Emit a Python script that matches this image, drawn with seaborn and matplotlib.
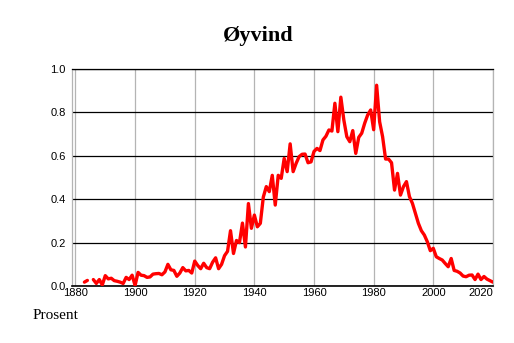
import numpy as np
import pandas as pd
import matplotlib
matplotlib.use('Agg')
import matplotlib.pyplot as plt
import seaborn as sns
from matplotlib.ticker import MultipleLocator

# Share of newborns named Øyvind (percent)
years = list(range(1883, 2021))
percent = [
    0.018, 0.026, np.nan, 0.030, 0.012, 0.030, 0.005,                      # 1883-1889
    0.048, 0.033, 0.036, 0.025, 0.022, 0.018, 0.012, 0.040, 0.030, 0.050,  # 1890-1899
    0.003, 0.063, 0.050, 0.048, 0.040, 0.042, 0.055, 0.057, 0.058, 0.052,  # 1900-1909
    0.065, 0.100, 0.075, 0.072, 0.045, 0.060, 0.085, 0.070, 0.072, 0.060,  # 1910-1919
    0.115, 0.095, 0.080, 0.105, 0.085, 0.080, 0.110, 0.130, 0.080, 0.100,  # 1920-1929
    0.140, 0.160, 0.255, 0.150, 0.210, 0.200, 0.290, 0.180, 0.380, 0.266,  # 1930-1939
    0.327, 0.273, 0.289, 0.410, 0.458, 0.435, 0.510, 0.373, 0.510, 0.496,  # 1940-1949
    0.588, 0.527, 0.655, 0.527, 0.565, 0.596, 0.607, 0.608, 0.568, 0.572,  # 1950-1959
    0.620, 0.634, 0.624, 0.673, 0.690, 0.719, 0.714, 0.842, 0.711, 0.870,  # 1960-1969
    0.765, 0.688, 0.665, 0.716, 0.611, 0.685, 0.704, 0.750, 0.788, 0.811,  # 1970-1979
    0.720, 0.925, 0.757, 0.688, 0.585, 0.585, 0.568, 0.442, 0.519, 0.419,  # 1980-1989
    0.458, 0.481, 0.412, 0.381, 0.335, 0.289, 0.255, 0.235, 0.204, 0.163,  # 1990-1999
    0.174, 0.135, 0.127, 0.120, 0.104, 0.089, 0.127, 0.072, 0.068, 0.060,  # 2000-2009
    0.046, 0.043, 0.050, 0.051, 0.030, 0.055, 0.030, 0.044, 0.032, 0.025,  # 2010-2019
    0.018,                                                                 # 2020
]
xticks = [1880, 1900, 1920, 1940, 1960, 1980, 2000, 2020]
yticks = [0.0, 0.2, 0.4, 0.6, 0.8, 1.0]

df = pd.DataFrame({'year': years, 'percent': percent})
# split into runs so the gap with missing values stays a gap
df['run'] = df['percent'].isna().cumsum()
df = df.dropna()

sns.set_style('white')
plt.rcParams['text.color'] = 'black'
plt.rcParams['xtick.color'] = 'black'
plt.rcParams['ytick.color'] = 'black'

fig = plt.figure(figsize=(5.14, 3.43), dpi=100)
ax = fig.add_axes([0.141, 0.166, 0.818, 0.633])

sns.lineplot(data=df, x='year', y='percent', units='run', estimator=None,
             color='red', linewidth=2.4, ax=ax, zorder=3)

ax.set_xlim(1879, 2020)
ax.set_ylim(0, 1.0)
ax.set_xticks(xticks)
ax.set_xticklabels([str(t) for t in xticks])
ax.xaxis.set_minor_locator(MultipleLocator(5))
ax.set_yticks(yticks)
ax.set_yticklabels(['%.1f' % t for t in yticks])

ax.set_axisbelow(True)
ax.yaxis.grid(True, color='black', linewidth=0.9)
ax.xaxis.grid(True, color='#b4b4b4', linewidth=0.9)

for side in ['left', 'right']:
    ax.spines[side].set_color('#b4b4b4')
    ax.spines[side].set_linewidth(0.9)
ax.spines['top'].set_color('black')
ax.spines['top'].set_linewidth(0.9)
ax.spines['bottom'].set_color('black')
ax.spines['bottom'].set_linewidth(1.2)

ax.tick_params(axis='x', which='major', length=0, pad=1.5, labelsize=8, labelcolor='black')
ax.tick_params(axis='x', which='minor', length=3, width=0.8, color='black', direction='out')
ax.tick_params(axis='y', length=0, pad=5, labelsize=8, labelcolor='black')
for lab in ax.get_xticklabels() + ax.get_yticklabels():
    lab.set_family('Liberation Sans')
ax.get_xticklabels()[-1].set_horizontalalignment('right')

ax.set_xlabel('')
ax.set_ylabel('')

fig.text(0.502, 0.895, 'Øyvind', ha='center', va='center', fontsize=16,
         fontweight='bold', family='Liberation Serif', color='black')
fig.text(0.064, 0.079, 'Prosent', ha='left', va='center', fontsize=11,
         family='Liberation Serif', color='black')

fig.savefig('out.png', dpi=100)
